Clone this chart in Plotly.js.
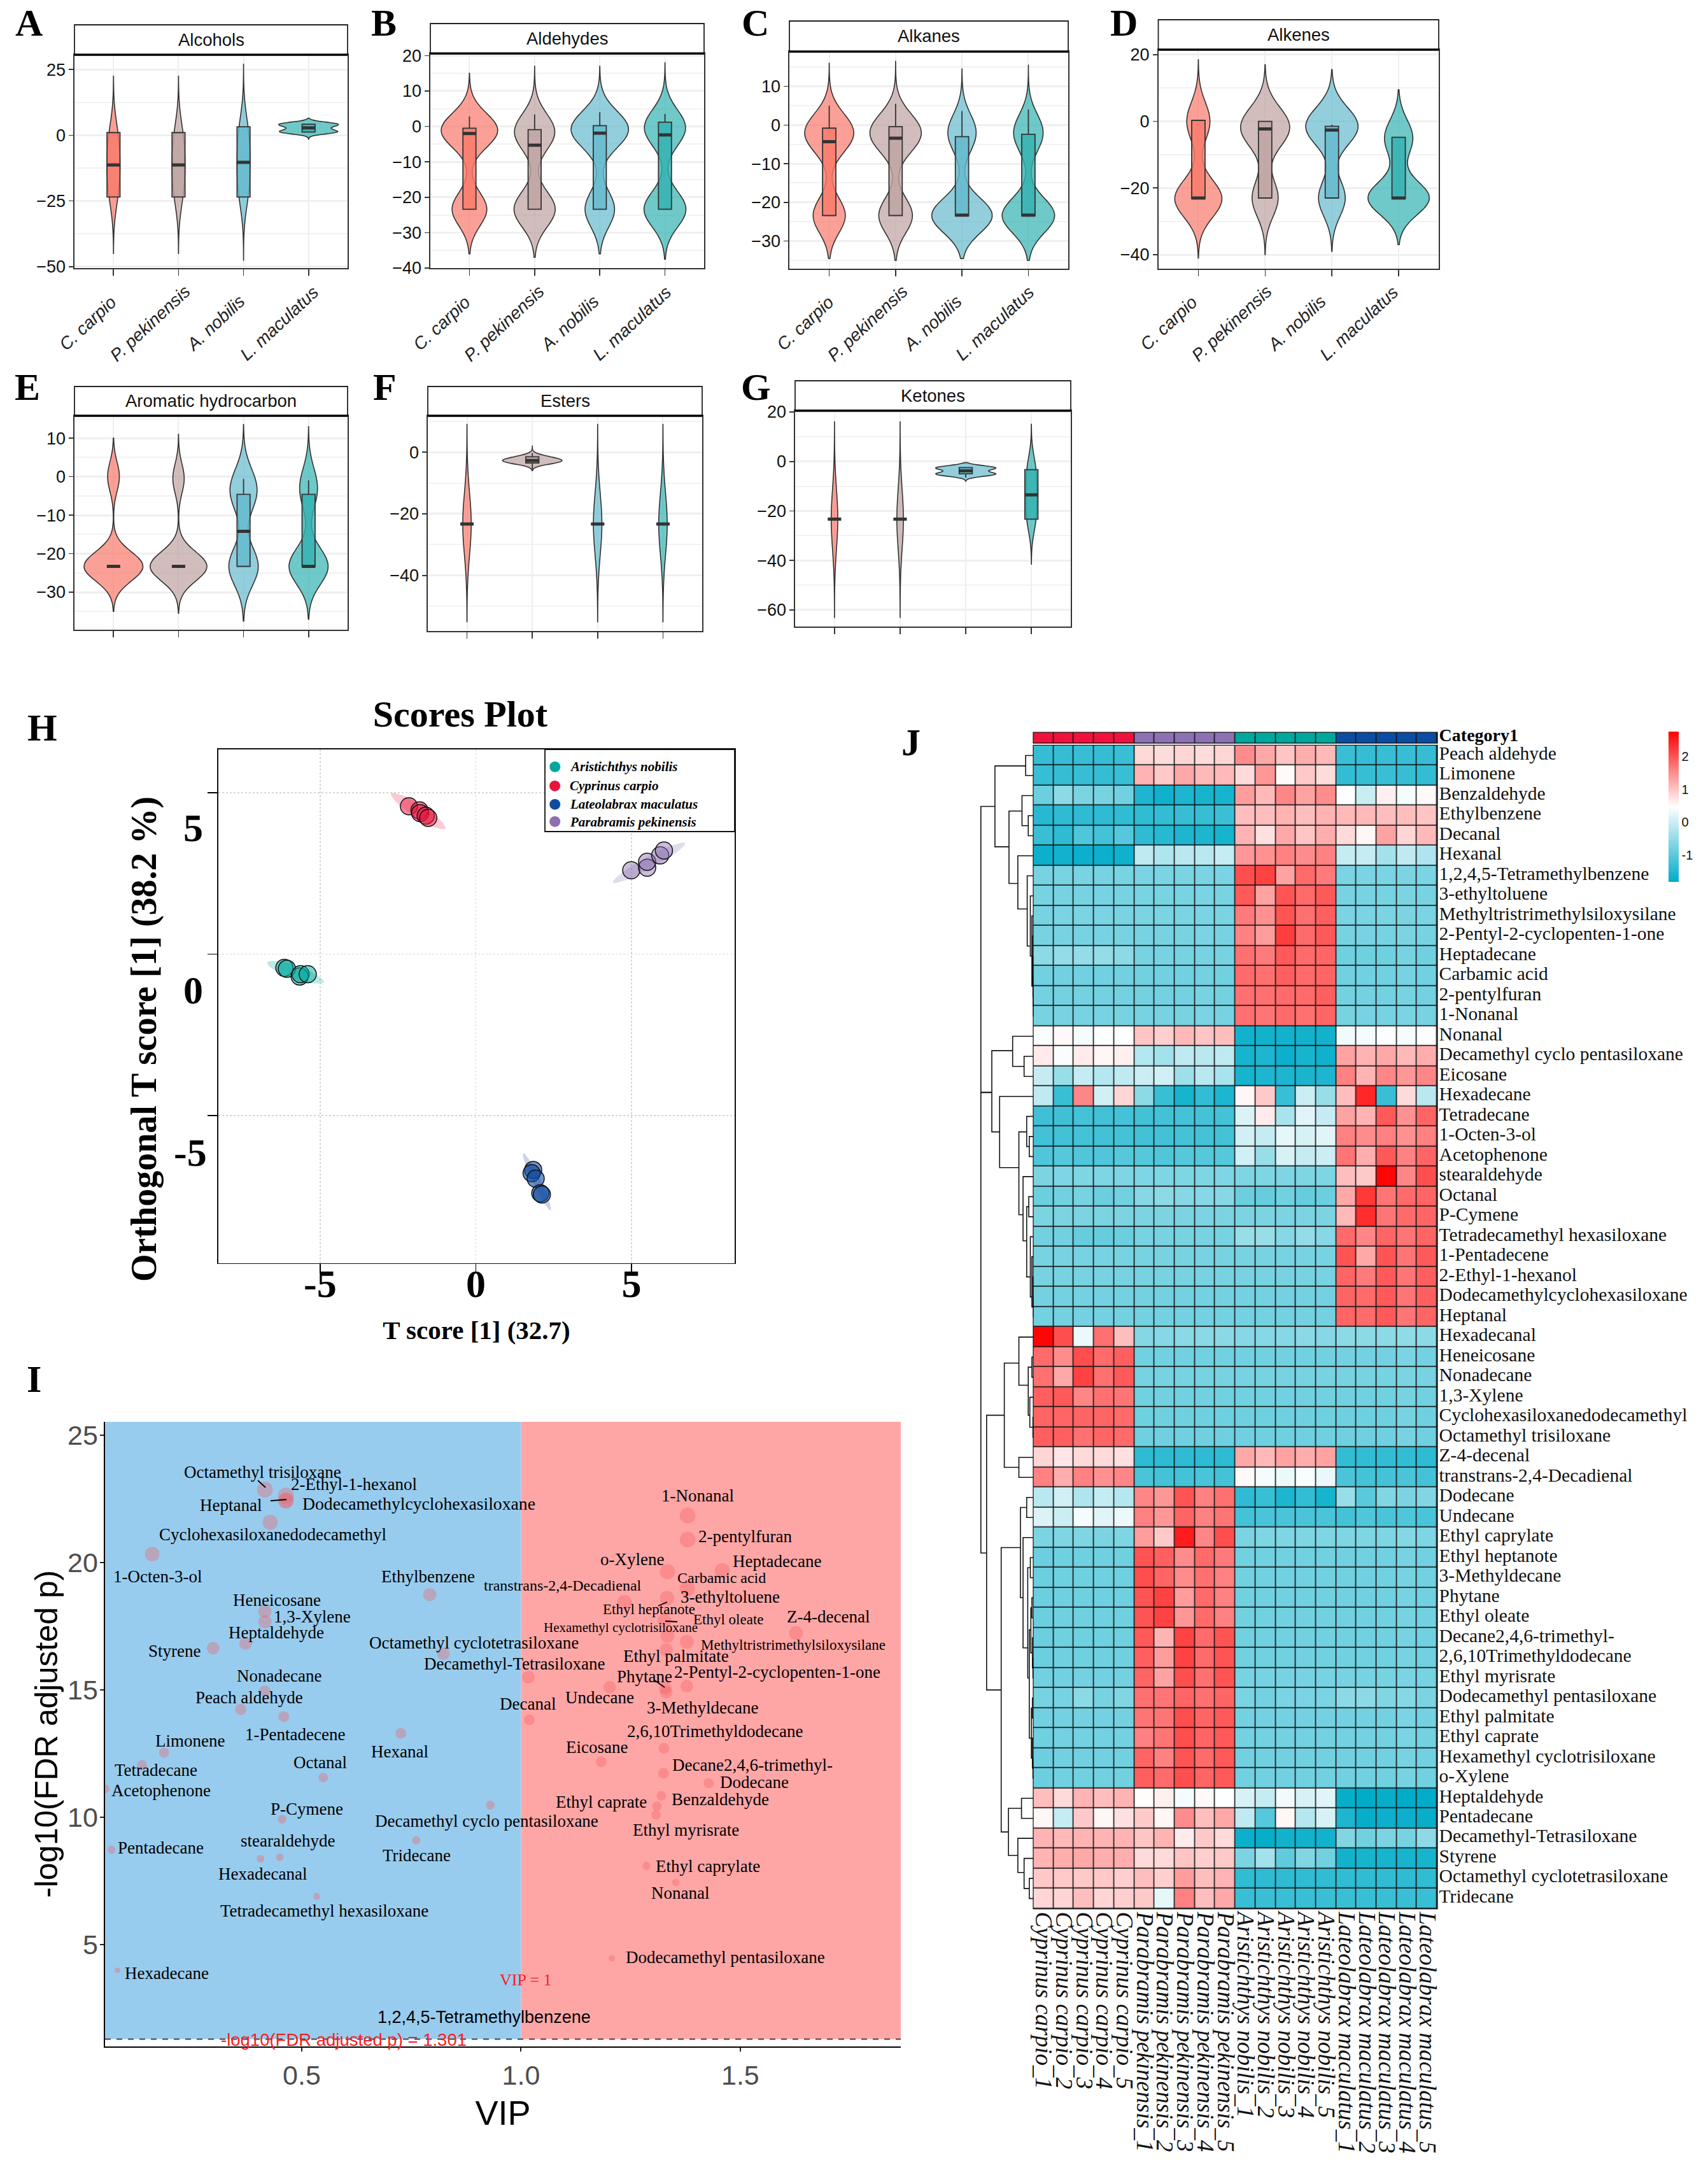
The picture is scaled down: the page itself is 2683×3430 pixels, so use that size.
<!DOCTYPE html>
<html><head><meta charset="utf-8">
<script src="https://cdn.plot.ly/plotly-3.0.1.min.js"></script>
<style>html,body{margin:0;padding:0;background:#fff}</style></head>
<body><div id="chart" style="width:2683px;height:3430px"></div>
<script>
// ---------- DATA: violin panels ----------
const species = ['C. carpio','P. pekinensis','A. nobilis','L. maculatus'];
const alcoholsSamples = [[-23.5,-17,-11.3,-5,1],[-23.5,-17,-11.3,-5,1],[-23.5,-17,-10.3,-3.5,3.2],[1.2,1.3,2.8,4.2,4.3]];
const alcoholsBox = [[-23.5,-23.5,-11.3,1,1],[-23.5,-23.5,-11.3,1,1],[-23.5,-23.5,-10.3,3.2,3.2],[1.2,1.2,2.8,4.2,4.2]];
const aldehydesSamples = [[0.5,-0.5,-1,-2,-2.5,-23.4,-23.4,-23.4],[-0.2,-1,-2,-3,-23.4,-23.4,-23.4,-23.4],[1,0,-0.5,-1,-2,-2.5,-23.4,-23.4,-23.4],[1,0,-1,-1.5,-23.4,-23.4,-23.4,-23.4]];
const aldehydesBox = [[-23.4,-23.4,-2,-0.5,2.8],[-23.4,-23.4,-5.3,-0.9,3.4],[-23.4,-23.4,-1.9,0.2,4],[-23.4,-23.4,-2.4,1.2,3.5]];
const alkanesSamples = [[1,-1,-2,-3.5,-4.5,-23.4,-23.4,-23.4],[1,-1,-2,-3.5,-4.5,-23.4,-23.4,-23.4],[0,-2,-4,-23.4,-23.4,-23.4,-23.4,-23.4,-23.4],[0,-2,-4,-23.4,-23.4,-23.4,-23.4,-23.4]];
const alkanesBox = [[-23.4,-23.4,-4.3,-0.8,5],[-23.4,-23.4,-3.4,-0.4,5.5],[-23.5,-23.5,-23.3,-3,3.6],[-23.5,-23.5,-23.3,-2.4,4]];
const alkenesSamples = [[1,-1,-23.2,-23.2,-23.2,-23.2],[1,-1,-3,-4,-23,-23],[0,-1,-2,-3,-23,-23],[-3,-7,-23,-23,-23,-23]];
const alkenesBox = [[-23.2,-23.2,-23,0.3,0.3],[-23,-23,-2.3,0,0],[-23,-23,-2.6,-1.5,-1],[-23.2,-23.2,-23,-4.8,-4.8]];
const aromaticSamples = [[0,-23.3,-23.3,-23.3,-23.3,-23.3],[-0.5,-23.3,-23.3,-23.3,-23.3,-23.3],[-1,-3.5,-6,-23.3,-23.3,-23.3],[-1,-5,-23.3,-23.3,-23.3,-23.3]];
const aromaticBox = [[-23.3,-23.3,-23.3,-23.3,-23.3],[-23.3,-23.3,-23.3,-23.3,-23.3],[-23.3,-23.3,-14.2,-4.6,-0.6],[-23.3,-23.3,-23.3,-4.6,-1]];
const estersSamples = [[-23.3,-23.3,-23.3],[-1.5,-2.7,-3.5,-2.7],[-23.3,-23.3,-23.3],[-23.3,-23.3,-23.3]];
const estersBox = [[-23.3,-23.3,-23.3,-23.3,-23.3],[-5.5,-3.5,-2.7,-1.5,-0.3],[-23.3,-23.3,-23.3,-23.3,-23.3],[-23.3,-23.3,-23.3,-23.3,-23.3]];
const ketonesSamples = [[-23.3,-23.3,-23.3],[-23.3,-23.3,-23.3],[-2.5,-2.7,-5,-5.2],[-3.3,-13.5,-23.3]];
const ketonesBox = [[-23.3,-23.3,-23.3,-23.3,-23.3],[-23.3,-23.3,-23.3,-23.3,-23.3],[-6.5,-5,-3.8,-2.5,-2.5],[-23.3,-23.3,-13.5,-3.3,-3.3]];

// ---------- DATA: scores plot ----------
const scoreGroups = ['Aristichthys nobilis','Cyprinus carpio','Lateolabrax maculatus','Parabramis pekinensis'];
const aristichthysT = [-6.15,-6.07,-5.66,-5.63,-5.40];
const aristichthysO = [-0.42,-0.45,-0.69,-0.62,-0.62];
const cyprinusT = [-2.15,-1.81,-1.79,-1.61,-1.53];
const cyprinusO = [4.58,4.45,4.37,4.29,4.22];
const lateolabraxT = [1.84,1.79,1.92,2.07,2.12];
const lateolabraxO = [-6.68,-6.78,-6.95,-7.40,-7.44];
const parabramisT = [4.99,5.50,5.50,5.92,6.04];
const parabramisO = [2.60,2.68,2.86,3.06,3.21];
const aristichthysRegionT = [-4.89,-5.114,-5.735,-6.394,-6.70,-6.486,-5.865,-5.206,-4.89];
const aristichthysRegionO = [-0.86,-0.64,-0.373,-0.216,-0.26,-0.48,-0.747,-0.904,-0.86];
const cyprinusRegionT = [-0.98,-1.157,-1.74,-2.387,-2.72,-2.543,-1.96,-1.313,-0.98];
const cyprinusRegionO = [3.89,4.165,4.596,4.929,4.97,4.695,4.264,3.931,3.89];
const lateolabraxRegionT = [2.40,2.349,2.07,1.727,1.52,1.571,1.85,2.193,2.40];
const lateolabraxRegionO = [-7.93,-7.635,-6.994,-6.383,-6.16,-6.455,-7.096,-7.707,-7.93];
const parabramisRegionT = [6.72,6.318,5.472,4.678,4.40,4.802,5.648,6.442,6.72];
const parabramisRegionO = [3.44,3.371,2.986,2.509,2.22,2.289,2.674,3.151,3.44];

// ---------- DATA: VIP plot ----------
const vipValues = [.416,.464,.465,.463,.428,.159,.792,.416,.416,.372,.298,.823,.416,.361,.459,.726,.186,.136,.549,.052,.93,.455,.761,.066,.45,.406,.534,.08,
 1.017,1.019,1.38,1.38,1.334,1.459,1.379,1.333,1.236,1.327,1.334,1.627,1.378,1.331,1.202,1.329,1.331,1.378,1.326,1.183,1.325,1.428,1.32,1.31,1.308,1.286,1.353,1.207];
const logPValues = [22.86,22.63,22.45,22.41,21.58,20.33,18.74,18.09,17.68,16.82,16.64,16.42,14.95,14.24,13.95,13.30,12.54,12.05,11.56,11.12,10.48,9.93,9.10,8.73,8.43,8.38,6.90,4.0,
 15.5,13.83,21.84,20.9,19.64,19.68,18.97,18.6,18.44,17.72,17.13,17.23,16.89,16.58,15.11,15.07,14.91,15.15,12.71,12.18,11.73,11.34,10.85,10.44,10.10,8.10,7.45,4.47];
const vipMarkerPx = [25,25,24,24,24,23,21,21,21,20,20,20,18,18,17,17,16,16,15,14,14,14,13,13,12,12,11,9,
 20,17,25,25,24,24,24,23,23,22,22,22,22,21,20,20,20,20,17,17,17,16,15,15,15,13,12,10];
// label text, centre x px, centre y px, font px
const vipLabels = [
 ['Octamethyl trisiloxane',412,2312,27],['2-Ethyl-1-hexanol',556,2331,27],['Heptanal',362,2364,27],['Dodecamethylcyclohexasiloxane',658,2361,27.7],
 ['Cyclohexasiloxanedodecamethyl',428,2410,27],['1-Octen-3-ol',248,2476,27],['Ethylbenzene',672,2476,27],['Heneicosane',435,2513,27],['1,3-Xylene',490,2539,27],
 ['Heptaldehyde',434,2564,27],['Styrene',274,2593,27],['Octamethyl cyclotetrasiloxane',744,2580,27],['Decamethyl-Tetrasiloxane',808,2613,27],['Nonadecane',439,2632,27],
 ['Peach aldehyde',391,2666,27],['1-Pentadecene',463,2724,27],['Limonene',298,2734,27],['Hexanal',628,2751,27],['Octanal',503,2768,27],['Tetradecane',245,2780,27],
 ['Acetophenone',253,2812,27],['P-Cymene',482,2841,27],['Decamethyl cyclo pentasiloxane',765,2860,27],['stearaldehyde',452,2891,27],['Pentadecane',252,2902,27],
 ['Tridecane',654,2914,27],['Hexadecanal',412,2943,27],['Tetradecamethyl hexasiloxane',509,3001,27],['Hexadecane',262,3099,27],
 ['Decanal',829,2676,27],['1-Nonanal',1096,2349,27],['2-pentylfuran',1170,2413,27],['o-Xylene',993,2449,27],['Heptadecane',1220,2452,27],['Carbamic acid',1133,2478,24],
 ['3-ethyltoluene',1147,2508,27],['transtrans-2,4-Decadienal',884,2490,24],['Ethyl heptanote',1019,2527,23],['Ethyl oleate',1144,2543,23],['Z-4-decenal',1301,2539,27],
 ['Hexamethyl cyclotrisiloxane',975,2556,21],['Methyltristrimethylsiloxysilane',1246,2583,23],['Ethyl palmitate',1062,2601,27],['2-Pentyl-2-cyclopenten-1-one',1221,2626,27],
 ['Phytane',1012,2633,27],['Undecane',942,2666,27],['3-Methyldecane',1103,2682,27],['2,6,10Trimethyldodecane',1123,2719,27],['Eicosane',937,2744,27],
 ['Decane2,4,6-trimethyl-',1182,2772,27],['Dodecane',1185,2799,27],['Benzaldehyde',1131,2826,27],['Ethyl caprate',944,2830,27],['Ethyl myrisrate',1077,2874,27],
 ['Ethyl caprylate',1112,2931,27],['Nonanal',1068,2973,27],['Dodecamethyl pentasiloxane',1139,3074,27]];
// leader lines x0,y0,x1,y1 in px
const vipLeaders = [[405,2325,417,2336],[425,2357,450,2355],[1034,2522,1048,2516],[1045,2546,1064,2547],[1027,2638,1044,2650]];

// ---------- DATA: heat map ----------
const heatRowNames = ['Peach aldehyde','Limonene','Benzaldehyde','Ethylbenzene','Decanal','Hexanal','1,2,4,5-Tetramethylbenzene','3-ethyltoluene','Methyltristrimethylsiloxysilane','2-Pentyl-2-cyclopenten-1-one','Heptadecane','Carbamic acid','2-pentylfuran','1-Nonanal','Nonanal','Decamethyl cyclo pentasiloxane','Eicosane','Hexadecane','Tetradecane','1-Octen-3-ol','Acetophenone','stearaldehyde','Octanal','P-Cymene','Tetradecamethyl hexasiloxane','1-Pentadecene','2-Ethyl-1-hexanol','Dodecamethylcyclohexasiloxane','Heptanal','Hexadecanal','Heneicosane','Nonadecane','1,3-Xylene','Cyclohexasiloxanedodecamethyl','Octamethyl trisiloxane','Z-4-decenal','transtrans-2,4-Decadienal','Dodecane','Undecane','Ethyl caprylate','Ethyl heptanote','3-Methyldecane','Phytane','Ethyl oleate','Decane2,4,6-trimethyl-','2,6,10Trimethyldodecane','Ethyl myrisrate','Dodecamethyl pentasiloxane','Ethyl palmitate','Ethyl caprate','Hexamethyl cyclotrisiloxane','o-Xylene','Heptaldehyde','Pentadecane','Decamethyl-Tetrasiloxane','Styrene','Octamethyl cyclotetrasiloxane','Tridecane'];
const heatColNames = ['Cyprinus carpio_1','Cyprinus carpio_2','Cyprinus carpio_3','Cyprinus carpio_4','Cyprinus carpio_5','Parabramis pekinensis_1','Parabramis pekinensis_2','Parabramis pekinensis_3','Parabramis pekinensis_4','Parabramis pekinensis_5','Aristichthys nobilis_1','Aristichthys nobilis_2','Aristichthys nobilis_3','Aristichthys nobilis_4','Aristichthys nobilis_5','Lateolabrax maculatus_1','Lateolabrax maculatus_2','Lateolabrax maculatus_3','Lateolabrax maculatus_4','Lateolabrax maculatus_5'];
const heatCategory = [0,0,0,0,0,1,1,1,1,1,2,2,2,2,2,3,3,3,3,3];
const heatValues = [
[-1.33,-1.33,-1.32,-1.33,-1.30,.82,.78,.85,.78,.85,1.5,1.25,1.0,1.2,1.1,-1.3,-1.33,-1.32,-1.32,-1.33],
[-1.32,-1.33,-1.32,-1.33,-1.30,1.15,.95,1.25,1.1,1.1,.8,1.4,.52,.95,.78,-1.35,-1.32,-1.3,-1.32,-1.35],
[-.85,-.55,-.7,-.75,-.8,-1.55,-1.68,-1.55,-1.6,-1.6,1.35,1.1,1.55,1.3,1.5,.47,-.02,.6,.38,.52],
[-1.45,-1.4,-1.4,-1.4,-1.38,-1.38,-1.35,-1.32,-1.32,-1.28,1.05,1.05,1.15,1.05,1.15,1.1,1.1,1.05,1.05,1.0],
[-1.3,-1.4,-1.1,-1.2,-1.05,-1.4,-1.45,-1.55,-1.55,-1.6,1.15,.75,1.25,1.0,1.2,.8,.55,1.3,.85,1.1],
[-1.7,-1.65,-1.7,-1.7,-1.68,-.1,-.25,-.15,-.15,-.05,1.4,1.45,1.6,1.5,1.6,-.05,-.05,-.35,-.1,-.25],
[-.75,-.74,-.74,-.75,-.74,-.72,-.72,-.72,-.72,-.72,2.05,2.15,1.3,1.8,1.65,-.72,-.72,-.72,-.7,-.72],
[-.75,-.75,-.75,-.75,-.75,-.74,-.74,-.74,-.72,-.74,1.95,1.3,2.0,1.8,1.95,-.75,-.75,-.75,-.7,-.75],
[-.75,-.72,-.72,-.72,-.73,-.72,-.72,-.72,-.72,-.72,1.65,1.45,2.0,1.75,1.9,-.72,-.72,-.72,-.7,-.72],
[-.75,-.75,-.75,-.75,-.75,-.75,-.75,-.75,-.72,-.75,1.6,1.35,2.2,1.8,1.95,-.75,-.75,-.75,-.7,-.75],
[-.55,-.5,-.5,-.5,-.55,-.75,-.75,-.75,-.75,-.75,1.75,1.65,1.95,1.8,1.85,-.82,-.82,-.82,-.75,-.82],
[-.8,-.8,-.8,-.8,-.8,-.8,-.8,-.8,-.78,-.8,1.8,1.75,1.9,1.8,1.85,-.8,-.8,-.8,-.75,-.8],
[-.78,-.78,-.78,-.78,-.78,-.78,-.78,-.78,-.75,-.78,1.75,1.75,1.8,1.8,1.9,-.78,-.78,-.78,-.75,-.78],
[-.75,-.75,-.75,-.75,-.75,-.75,-.75,-.75,-.72,-.75,1.75,1.7,1.8,1.75,1.85,-.75,-.75,-.75,-.72,-.75],
[.42,.52,.38,.48,.46,1.0,.9,1.1,1.0,1.05,-1.65,-1.65,-1.65,-1.65,-1.65,.35,.38,.45,.38,.45],
[.65,.42,.65,.55,.6,-.2,-.35,-.1,-.15,-.1,-1.6,-1.55,-1.7,-1.6,-1.68,1.3,1.15,1.25,1.1,1.2],
[-.05,-.45,-.05,-.2,-.1,0,.05,-.4,-.15,-.3,-1.6,-1.55,-1.55,-1.58,-1.55,1.6,1.15,1.55,1.4,1.55],
[-.1,-1.3,1.55,.05,.85,-.55,-1.3,-1.6,-1.35,-1.55,.55,.95,-1.3,0,-.45,1.05,2.4,-1.3,.8,-.15],
[-1.25,-1.25,-1.2,-1.22,-1.2,-1.22,-1.22,-1.2,-1.2,-1.2,.15,.65,-.3,.2,-.05,1.3,1.15,1.95,1.45,1.85],
[-1.22,-1.22,-1.2,-1.22,-1.2,-1.22,-1.22,-1.2,-1.2,-1.2,.05,-.05,.25,.1,.2,1.6,1.5,1.6,1.45,1.6],
[-1.1,-1.05,-1.1,-1.1,-1.05,-1.05,-1.1,-1.05,-1.05,-1.05,.05,-.45,.1,-.05,0,1.7,1.2,1.95,1.6,1.85],
[-.7,-.68,-.68,-.68,-.68,-.68,-.68,-.68,-.68,-.68,-.68,-.68,-.68,-.68,-.68,1.05,.95,2.7,1.55,2.05],
[-.85,-.8,-.75,-.85,-.8,-.6,-.55,-.6,-.6,-.6,-.85,-.9,-.8,-.9,-.85,1.25,2.25,1.7,1.8,1.85],
[-.7,-.7,-.7,-.7,-.7,-.7,-.7,-.7,-.7,-.7,-.7,-.7,-.7,-.7,-.7,1.1,2.35,1.7,1.8,1.85],
[-.8,-.8,-.9,-.9,-.85,-.75,-.75,-.75,-.75,-.75,-.45,-.45,-.6,-.5,-.6,1.8,1.55,1.85,1.7,1.85],
[-.75,-.75,-.75,-.75,-.75,-.75,-.75,-.75,-.75,-.75,-.75,-.75,-.75,-.75,-.75,2.0,1.25,2.0,1.7,1.95],
[-.75,-.75,-.75,-.75,-.75,-.75,-.75,-.75,-.75,-.75,-.75,-.75,-.75,-.75,-.75,1.85,1.65,1.95,1.7,1.9],
[-.78,-.78,-.78,-.78,-.78,-.78,-.78,-.78,-.78,-.78,-.78,-.78,-.78,-.78,-.78,1.85,1.8,1.95,1.7,1.9],
[-.78,-.78,-.78,-.78,-.78,-.78,-.78,-.78,-.78,-.78,-.78,-.78,-.78,-.78,-.78,1.85,1.8,1.95,1.7,1.85],
[2.7,2.05,.3,1.75,1.05,-.62,-.6,-.58,-.58,-.58,-.6,-.6,-.6,-.58,-.6,-.55,-.55,-.55,-.52,-.55],
[1.8,1.5,2.05,1.8,1.9,-.8,-.8,-.8,-.8,-.8,-.8,-.8,-.8,-.8,-.8,-.78,-.78,-.78,-.72,-.78],
[1.75,1.25,2.15,1.75,1.95,-.75,-.75,-.75,-.75,-.75,-.75,-.75,-.75,-.75,-.75,-.75,-.75,-.75,-.72,-.75],
[1.9,1.95,1.55,1.75,1.7,-.8,-.8,-.8,-.8,-.8,-.8,-.8,-.8,-.8,-.8,-.8,-.8,-.8,-.75,-.8],
[1.85,1.85,1.85,1.85,1.8,-.82,-.82,-.82,-.82,-.82,-.82,-.82,-.82,-.82,-.82,-.82,-.82,-.82,-.75,-.82],
[1.9,1.9,1.75,1.85,1.8,-.82,-.82,-.82,-.82,-.82,-.82,-.82,-.82,-.82,-.82,-.82,-.82,-.82,-.75,-.82],
[.85,.7,.8,.8,.75,-1.4,-1.4,-1.4,-1.4,-1.4,1.25,1.1,1.3,1.2,1.3,-1.35,-1.35,-1.35,-1.35,-1.4],
[1.6,1.2,1.6,1.45,1.55,-1.15,-1.2,-1.2,-1.15,-1.2,.52,.38,.3,.42,.28,-1.15,-1.2,-1.2,-1.15,-1.2],
[-.15,.05,-.25,-.05,-.2,1.55,1.4,2.0,1.6,1.75,-1.4,-1.3,-1.55,-1.35,-1.6,-.45,-1.0,-.65,-.7,-.65],
[.15,0,.38,.2,.3,1.6,1.4,1.85,1.6,1.7,-1.2,-1.15,-1.15,-1.15,-1.15,-1.2,-1.1,-1.15,-1.1,-1.15],
[-.7,-.68,-.68,-.7,-.68,1.35,.95,2.5,1.55,2.05,-.7,-.68,-.68,-.68,-.68,-.68,-.68,-.68,-.62,-.68],
[-.85,-.82,-.82,-.82,-.82,2.0,1.9,1.5,1.8,1.65,-.8,-.8,-.8,-.8,-.8,-.8,-.8,-.8,-.75,-.8],
[-.85,-.82,-.82,-.82,-.82,2.05,1.85,1.5,1.75,1.6,-.8,-.8,-.8,-.8,-.8,-.8,-.8,-.8,-.75,-.8],
[-.85,-.82,-.82,-.82,-.82,2.0,2.15,1.35,1.8,1.6,-.8,-.8,-.8,-.8,-.8,-.8,-.8,-.8,-.75,-.8],
[-.85,-.82,-.82,-.82,-.82,2.0,2.15,1.4,1.8,1.6,-.8,-.8,-.8,-.8,-.8,-.8,-.8,-.8,-.75,-.8],
[-.85,-.82,-.82,-.82,-.82,1.95,1.15,2.15,1.8,2.0,-.8,-.8,-.8,-.8,-.8,-.8,-.8,-.8,-.75,-.8],
[-.85,-.82,-.82,-.82,-.82,1.9,1.35,2.15,1.8,2.0,-.8,-.8,-.8,-.8,-.8,-.8,-.8,-.8,-.75,-.8],
[-.8,-.8,-.78,-.8,-.78,1.85,1.3,2.05,1.75,2.0,-.75,-.75,-.75,-.75,-.75,-.75,-.75,-.75,-.72,-.75],
[-.75,-.75,-.55,-.75,-.65,1.75,1.7,1.85,1.75,1.85,-.72,-.78,-.72,-.72,-.72,-.55,-.55,-.65,-.6,-.7],
[-.8,-.78,-.78,-.78,-.78,1.7,1.7,2.05,1.85,1.95,-.78,-.78,-.78,-.78,-.78,-.78,-.78,-.78,-.72,-.78],
[-.82,-.78,-.78,-.78,-.78,1.6,1.7,2.05,1.85,1.95,-.78,-.78,-.78,-.78,-.78,-.78,-.78,-.78,-.72,-.78],
[-.85,-.8,-.8,-.8,-.8,1.85,1.6,2.0,1.8,1.95,-.8,-.8,-.8,-.8,-.8,-.8,-.8,-.8,-.75,-.8],
[-.85,-.8,-.8,-.8,-.8,1.9,1.8,2.05,1.85,1.95,-.8,-.8,-.8,-.8,-.8,-.8,-.8,-.8,-.75,-.8],
[1.05,.8,1.15,1.05,1.15,.5,.6,.38,.52,.46,.1,-.05,.35,.1,.2,-1.75,-1.8,-1.75,-1.8,-1.8],
[.55,-.05,.95,.55,.75,.95,.55,1.5,1.05,1.25,-.1,-1.05,.55,-.2,.1,-1.55,-1.75,-1.7,-1.7,-1.75],
[1.15,1.1,1.15,1.15,1.15,1.0,1.15,.65,.95,.8,-1.7,-1.75,-1.65,-1.65,-1.65,-.65,-.8,-.7,-.75,-.55],
[1.15,1.2,1.25,1.2,1.2,.8,.8,1.0,.9,.95,-.7,-.35,-.95,-.65,-.8,-1.65,-1.6,-1.6,-1.6,-1.6],
[.95,.95,.95,.95,.9,1.05,.9,1.35,1.05,1.15,-1.38,-1.4,-1.4,-1.38,-1.38,-1.38,-1.38,-1.38,-1.4,-1.38],
[.85,.85,1.05,.85,.9,.95,.25,1.6,1.05,1.25,-1.3,-1.3,-1.3,-1.3,-1.3,-1.3,-1.3,-1.3,-1.3,-1.3]];
// dendrogram merges: [height, upper row, lower row, upper child height, lower child height]
const dendroMerges = [[172,3.54,17.8,199,193],[172,17.8,40.77,193,183],[199,1.52,5.55,258,226],[258,1,2,273,273],[226,3.77,7.38,251,243],[251,3,4.5,273,263],[263,4,5,273,273],[243,6,8.65,273,261],[261,7,10.5,273,267],[267,8,11,273,270],[270,9,12.5,273,271],[271,10,12.5,273,272],[272,11,13,273,272.5],[272.5,12,13.5,273,272.8],[272.8,13,14,273,273],
[193,15.72,19.77,233,208],[233,15,16.5,273,255],[255,16,17,273,273],[208,18,21.55,273,245],[245,19.77,23.9,260,253],[260,19,20.5,273,265],[265,20,21,273,273],[253,22,25.2,273,260],[260,23.5,27,264,267],[264,23,24,273,273],[267,25,28,273,270],[270,26,28.5,273,272],[272,27,28.5,273,272.8],[272.8,28,29,273,273],
[183,33.9,47.6,217,211],[217,31.3,36.5,245,245],[245,30,32.4,273,263],[263,31.5,33.9,270,266],[270,31,32,273,273],[266,33,34.5,273,272],[272,34,35,273,273],[245,36,37,273,273],
[211,40.5,54.68,248,225],[248,38.5,43,260,253],[260,38,39,273,273],[253,40,45.5,273,262],[262,41.5,47,267,265],[267,41,42,273,273],[265,44.6,50,268,269],[268,43.5,45.75,270,271],[270,43,44,273,273],[271,45,46.5,273,272],[272,46,47,273,273],[269,48.5,51,271,271],[271,48,49,273,273],[271,50,51.5,273,272],[272,51,52,273,273],
[225,53.5,55.85,250,243],[250,53,54,273,273],[243,55,56.7,273,255],[255,56,57.5,273,265],[265,57,58,273,273]];

// ---------- LAYOUT HELPERS ----------
const W = 2683, H = 3430;
const fx = x => x / W, fy = y => 1 - y / H;
const SANS = '"Liberation Sans",Arial,sans-serif', SERIF = '"Liberation Serif","Times New Roman",serif';
const data = [], shapes = [], annotations = [], layout = {};
function note(text, x, y, size, opts) {
  annotations.push(Object.assign({text, x: fx(x), y: fy(y), xref:'paper', yref:'paper', showarrow:false, xanchor:'center', yanchor:'middle',
    font:{family:SERIF, size, color:'#000'}}, opts || {}));
}
const violinFill = ['rgba(250,120,105,0.7)','rgba(190,162,160,0.7)','rgba(100,185,205,0.7)','rgba(49,178,176,0.7)'];
const boxFill = ['rgba(250,120,105,0.8)','rgba(190,162,160,0.8)','rgba(100,185,205,0.8)','rgba(49,178,176,0.8)'];

function violinPanel(n, cfg) {
  const xa = n === 1 ? 'x' : 'x' + n, ya = n === 1 ? 'y' : 'y' + n;
  cfg.samples.forEach((s, i) => {
    data.push({type:'violin', x0:i+1, y:s, xaxis:xa, yaxis:ya, bandwidth:cfg.bw[i], spanmode:'manual', span:cfg.span[i], width:cfg.width[i],
      scalegroup:cfg.title + i, scalemode:'width', fillcolor:violinFill[i], line:{color:'#333333', width:1.6}, points:false,
      box:{visible:false}, meanline:{visible:false}, hoverinfo:'skip', showlegend:false});
  });
  cfg.box.forEach((b, i) => {
    data.push({type:'box', x:[i+1], lowerfence:[b[0]], q1:[b[1]], median:[b[2]], q3:[b[3]], upperfence:[b[4]], xaxis:xa, yaxis:ya, width:0.2, whiskerwidth:0,
      fillcolor:boxFill[i], line:{color:'#333333', width:1.8}, boxpoints:false, hoverinfo:'skip', showlegend:false});
  });
  data.push({type:'scatter', mode:'markers', x:[1,2,3,4], y:cfg.box.map(b => b[2]), xaxis:xa, yaxis:ya, showlegend:false, hoverinfo:'skip',
    marker:{symbol:'line-ew', size:15, line:{color:'#333333', width:5}}});
  const xName = n === 1 ? 'xaxis' : 'xaxis' + n, yName = n === 1 ? 'yaxis' : 'yaxis' + n;
  const r = cfg.rect;
  layout[xName] = {domain:[fx(r.l), fx(r.r)], anchor:ya, range:[0.4,4.6], tickmode:'array', tickvals:[1,2,3,4], ticktext:species,
    showticklabels:false, ticks:'outside', ticklen:10, tickwidth:1.6, tickcolor:'#333',
    showgrid:true, gridcolor:'#eeeeee', gridwidth:2, zeroline:false, showline:true, linecolor:'#333', linewidth:1.6, mirror:true};
  layout[yName] = {domain:[fy(r.b), fy(r.sb)], anchor:xa, range:cfg.range, dtick:cfg.dtick, tick0:0, tickfont:{family:SANS, size:27, color:'#111'}, ticks:'outside', ticklen:7, tickwidth:1.6, tickcolor:'#333',
    showgrid:true, gridcolor:'#efefef', gridwidth:3, zeroline:false, showline:true, linecolor:'#333', linewidth:1.6, mirror:true,
    minor:{dtick:cfg.dtick/2, tick0:0, showgrid:true, gridcolor:'#f2f2f2', gridwidth:2, ticks:''}};
  shapes.push({type:'rect', xref:'paper', yref:'paper', x0:fx(r.l), x1:fx(r.r), y0:fy(r.sb), y1:fy(r.st), line:{color:'#222', width:1.8}, fillcolor:'#ffffff', layer:'above'});
  shapes.push({type:'line', xref:'paper', yref:'paper', x0:fx(r.l), x1:fx(r.r), y0:fy(r.sb), y1:fy(r.sb), line:{color:'#000', width:3.5}, layer:'above'});
  note(cfg.title, (r.l + r.r) / 2, (r.st + r.sb) / 2, 27.5, {font:{family:SANS, size:27.5, color:'#111'}});
  if (cfg.labelX) species.forEach((s, i) => note(s, cfg.labelX[i], 508, 27.5, {textangle:-43, font:{family:SANS, size:27.5, style:'italic', color:'#222'}}));
}

violinPanel(1, {title:'Alcohols', samples:alcoholsSamples, box:alcoholsBox, rect:{l:117,r:546,st:39,sb:86,b:421}, range:[-50.5,30.6], dtick:25, labelX:[138,236,338.5,439],
  bw:[7.3,7.3,7.5,0.8], span:[[-45,22.5],[-45,22.5],[-47.5,27],[-1.5,6.5]], width:[0.2,0.2,0.2,0.92]});
violinPanel(2, {title:'Aldehydes', samples:aldehydesSamples, box:aldehydesBox, rect:{l:676,r:1106,st:37,sb:84,b:421}, range:[-40,20.6], dtick:10, labelX:[694,792,895,993],
  bw:[4.7,5,5,5], span:[[-36,15],[-37,17],[-36,17],[-37.5,18]], width:[0.86,0.63,0.88,0.64]});
violinPanel(3, {title:'Alkanes', samples:alkanesSamples, box:alkanesBox, rect:{l:1240,r:1678,st:33,sb:81,b:422}, range:[-37.15,19], dtick:10, labelX:[1265,1363,1465,1563],
  bw:[4.5,4.5,4.5,4.5], span:[[-34.5,16],[-35,16.5],[-34.5,14.5],[-35,15.5]], width:[0.74,0.77,0.9,0.79]});
violinPanel(4, {title:'Alkenes', samples:alkenesSamples, box:alkenesBox, rect:{l:1819.5,r:2260,st:31,sb:78,b:422}, range:[-44.2,21.5], dtick:20, labelX:[1836,1935,2037,2135],
  bw:[5.6,5.6,5.5,5], span:[[-41,18.5],[-40,17],[-39,15.5],[-37,9.5]], width:[0.7,0.735,0.78,0.91]});
violinPanel(5, {title:'Aromatic hydrocarbon', samples:aromaticSamples, box:aromaticBox, rect:{l:117,r:546,st:607,sb:653,b:989}, range:[-39.75,15.8], dtick:10,
  bw:[3.8,3.8,5,4.7], span:[[-35,10],[-35.5,11],[-37.5,13.5],[-37,13]], width:[0.9,0.87,0.45,0.6]});
violinPanel(6, {title:'Esters', samples:estersSamples, box:estersBox, rect:{l:672,r:1103,st:607,sb:653,b:991}, range:[-58,11.8], dtick:20,
  bw:[10,0.9,10,10], span:[[-55,9],[-6,2],[-55,9],[-55,9]], width:[0.13,0.91,0.13,0.13]});
violinPanel(7, {title:'Ketones', samples:ketonesSamples, box:ketonesBox, rect:{l:1249,r:1682,st:598,sb:645,b:984}, range:[-66.7,20.5], dtick:20,
  bw:[12,12,0.9,6], span:[[-63,16],[-63,16],[-8,-0.5],[-41.5,15]], width:[0.1,0.1,0.92,0.17]});

// ---------- H: scores plot ----------
const groupColors = ['#00A79D','#E8133D','#0F4BA0','#8B6FB0'];
const regionColors = ['rgba(0,167,157,0.25)','rgba(232,19,61,0.22)','rgba(60,70,170,0.25)','rgba(139,111,176,0.25)'];
const pointColors = ['rgba(0,167,157,0.5)','rgba(232,19,61,0.5)','rgba(15,75,160,0.6)','rgba(139,111,176,0.45)'];
[[aristichthysRegionT,aristichthysRegionO],[cyprinusRegionT,cyprinusRegionO],[lateolabraxRegionT,lateolabraxRegionO],[parabramisRegionT,parabramisRegionO]].forEach((p,i) => {
  data.push({type:'scatter', mode:'lines', x:p[0], y:p[1], xaxis:'x8', yaxis:'y8', fill:'toself', fillcolor:regionColors[i], line:{width:0, shape:'spline', smoothing:1.2}, showlegend:false, hoverinfo:'skip'});
});
[[aristichthysT,aristichthysO],[cyprinusT,cyprinusO],[lateolabraxT,lateolabraxO],[parabramisT,parabramisO]].forEach((p,i) => {
  data.push({type:'scatter', mode:'markers', name:scoreGroups[i], x:p[0], y:p[1], xaxis:'x8', yaxis:'y8', showlegend:false,
    marker:{size:27, color:pointColors[i], line:{color:'#111', width:1.5}}});
});
layout.xaxis8 = {domain:[fx(343), fx(1154)], anchor:'y8', range:[-8.27,8.31], tickvals:[-5,0,5], ticktext:['-5','0','5'], tickfont:{family:SERIF, size:62, weight:'bold', color:'#000'},
  ticks:'outside', ticklen:15, tickwidth:1.5, tickcolor:'#000', showline:true, mirror:true, linecolor:'#111', linewidth:1.8, zeroline:false, showgrid:true, gridcolor:'#d5d5d5', griddash:'dot', gridwidth:1.5, ticklabelstandoff:-38,
  title:{text:'T score [1] (32.7)', font:{family:SERIF, size:41, weight:'bold', color:'#000'}, standoff:25}};
layout.yaxis8 = {domain:[fy(1983.5), fy(1177)], anchor:'x8', range:[-9.56,6.34], tickvals:[-5,0,5], showticklabels:false,
  ticks:'outside', ticklen:15, tickwidth:1.5, tickcolor:'#000', showline:true, mirror:true, linecolor:'#111', linewidth:1.8, zeroline:false, showgrid:true, gridcolor:'#d5d5d5', griddash:'dot', gridwidth:1.5};
const boldSerif = s => ({font:{family:SERIF, size:s, weight:'bold', color:'#000'}});
note('5',303,1300,62,boldSerif(62)); note('0',303,1555,62,boldSerif(62)); note('-5',299,1810,62,boldSerif(62));
note('Orthogonal T score [1] (38.2 %)',226,1632,56,Object.assign({textangle:-90},boldSerif(56)));
layout.title = {text:'Scores Plot', x:fx(723), xref:'paper', xanchor:'center', y:fy(1121), yref:'paper', yanchor:'middle', font:{family:SERIF, size:58, weight:'bold', color:'#000'}};
shapes.push({type:'rect', xref:'paper', yref:'paper', x0:fx(856), x1:fx(1154), y0:fy(1306), y1:fy(1177), line:{color:'#111', width:1.8}, fillcolor:'#fff', layer:'above'});
[1202,1232,1261,1289].forEach((y,i) => {
  note('●',871,y,22,{font:{family:'"DejaVu Sans"', size:22, color:groupColors[i]}});
  note(scoreGroups[i],893,y+2,21,{xanchor:'left', font:{family:SERIF, size:21, style:'italic', weight:'bold', color:'#000'}});
});

// ---------- I: VIP plot ----------
data.push({type:'scatter', mode:'markers', x:vipValues, y:logPValues, xaxis:'x9', yaxis:'y9', showlegend:false,
  marker:{size:vipMarkerPx, color:'rgba(245,90,95,0.48)', line:{width:0}}});
layout.xaxis9 = {domain:[fx(165), fx(1415)], anchor:'y9', range:[0.0515,1.866], tickvals:[0.5,1,1.5], ticktext:['0.5','1.0','1.5'], tickfont:{family:SANS, size:43, color:'#4d4d4d'},
  ticks:'outside', ticklen:6, tickwidth:2, tickcolor:'#222', showline:true, linecolor:'#000', linewidth:2.5, zeroline:false, showgrid:false,
  title:{text:'VIP', font:{family:SANS, size:54, color:'#000'}, standoff:18}};
layout.yaxis9 = {domain:[fy(3213.7), fy(2233)], anchor:'x9', range:[1.02,25.52], tickvals:[5,10,15,20,25], tickfont:{family:SANS, size:43, color:'#4d4d4d'},
  ticks:'outside', ticklen:6, tickwidth:2, tickcolor:'#222', showline:true, linecolor:'#000', linewidth:2.5, zeroline:false, showgrid:false, ticklabelstandoff:-6,
  title:{text:'-log10(FDR adjusted p)', font:{family:SANS, size:49.5, color:'#000'}, standoff:0}};
shapes.push({type:'rect', xref:'x9', yref:'y9', x0:0.0515, x1:1, y0:1.301, y1:25.52, fillcolor:'#98CCEE', line:{width:0}, layer:'below'});
shapes.push({type:'rect', xref:'x9', yref:'y9', x0:1, x1:1.866, y0:1.301, y1:25.52, fillcolor:'#FEA6A6', line:{width:0}, layer:'below'});
shapes.push({type:'line', xref:'x9', yref:'y9', x0:0.0515, x1:1.866, y0:1.301, y1:1.301, line:{color:'#444', width:2, dash:'dash'}, layer:'below'});
vipLabels.forEach(l => note(l[0], l[1], l[2], l[3]));
vipLeaders.forEach(s => shapes.push({type:'line', xref:'paper', yref:'paper', x0:fx(s[0]), y0:fy(s[1]), x1:fx(s[2]), y1:fy(s[3]), line:{color:'#000', width:1.8}, layer:'above'}));
note('1,2,4,5-Tetramethylbenzene',760,3168,27,{font:{family:SANS, size:27, color:'#000'}});
note('-log10(FDR adjusted p) = 1.301',540,3203,27,{font:{family:SANS, size:27.5, color:'#ff1a1a'}});
note('VIP = 1',826,3109,26,{font:{family:SERIF, size:26, color:'#ff1a1a'}});

// ---------- J: heat map ----------
const hx0 = 1623.4, hx1 = 2257.6, hy0 = 1170.8, hy1 = 2997.4;
data.push({type:'heatmap', z:heatValues, x:heatColNames, y:heatRowNames, xaxis:'x10', yaxis:'y10', xgap:1.6, ygap:1.6, zmin:-1.81, zmax:2.75, hoverinfo:'skip',
  colorscale:[[0,'#00ACC9'],[0.5,'#ffffff'],[1,'#ff0000']],
  colorbar:{x:fx(2621), xanchor:'left', xref:'paper', y:fy(1149), yanchor:'top', yref:'paper', lenmode:'pixels', len:236, thicknessmode:'pixels', thickness:15.5, xpad:0, ypad:0, outlinewidth:0,
    tickmode:'array', tickvals:[-1,0,1,2], ticktext:['-1','0','1','2'], ticks:'', tickfont:{family:SANS, size:20, color:'#111'}}});
layout.xaxis10 = {domain:[fx(hx0), fx(hx1)], anchor:'y10', type:'category', tickmode:'array', tickvals:heatColNames, ticktext:heatColNames, tickangle:90, tickfont:{family:SERIF, size:37, style:'italic', color:'#111'}, ticks:'', showgrid:false, zeroline:false, showline:false, ticklabelstandoff:4};
layout.yaxis10 = {domain:[fy(hy1), fy(hy0)], anchor:'x10', side:'right', type:'category', autorange:'reversed', tickmode:'array', tickvals:heatRowNames, ticktext:heatRowNames, tickfont:{family:SERIF, size:29.5, color:'#111'}, ticks:'', showgrid:false, zeroline:false, showline:false, ticklabelstandoff:2, ticklabelshift:4};
const categoryStrip = ['#F0123C','#8E70B4','#00A79D','#0A4DA2'];
data.push({type:'heatmap', z:[heatCategory], x:heatColNames, y:['Category1'], xaxis:'x11', yaxis:'y11', xgap:1.6, ygap:0, zmin:0, zmax:4, showscale:false, hoverinfo:'skip',
  colorscale:[[0,categoryStrip[0]],[0.25,categoryStrip[0]],[0.25,categoryStrip[1]],[0.5,categoryStrip[1]],[0.5,categoryStrip[2]],[0.75,categoryStrip[2]],[0.75,categoryStrip[3]],[1,categoryStrip[3]]]});
layout.xaxis11 = {domain:[fx(hx0), fx(hx1)], anchor:'y11', type:'category', showticklabels:false, ticks:'', showgrid:false, zeroline:false};
layout.yaxis11 = {domain:[fy(1166.7), fy(1150.4)], anchor:'x11', side:'right', type:'category', tickfont:{family:SERIF, size:28, weight:'bold', color:'#000'}, ticks:'', showgrid:false, zeroline:false, ticklabelstandoff:2, ticklabelshift:-4};
shapes.push({type:'rect', xref:'paper', yref:'paper', x0:fx(hx0-1), x1:fx(hx1+1), y0:fy(hy1+1), y1:fy(hy0-1), fillcolor:'#111', line:{width:0}, layer:'below'});
shapes.push({type:'rect', xref:'paper', yref:'paper', x0:fx(hx0-1), x1:fx(hx1+1), y0:fy(1167.7), y1:fy(1149.4), fillcolor:'#111', line:{width:0}, layer:'below'});
const dx = [], dy = [];
dendroMerges.forEach(m => { dx.push(m[3], m[0], m[0], m[4], null); dy.push(m[1], m[1], m[2], m[2], null); });
data.push({type:'scatter', mode:'lines', x:dx, y:dy, xaxis:'x12', yaxis:'y12', showlegend:false, hoverinfo:'skip', line:{color:'#111', width:1.6}});
layout.xaxis12 = {domain:[fx(1540), fx(hx0)], anchor:'y12', range:[171,273], visible:false};
layout.yaxis12 = {domain:[fy(hy1), fy(hy0)], anchor:'x12', range:[58.5,0.5], visible:false};

// ---------- panel letters ----------
[['A',45,36],['B',603,36],['C',1186,36],['D',1765,36],['E',43,608],['F',604,608],['G',1187,608],['H',66,1143],['I',53,2166],['J',1431,1166]]
  .forEach(l => note(l[0], l[1], l[2], 60, boldSerif(60)));

Object.assign(layout, {width:W, height:H, autosize:false, margin:{l:0,r:0,t:0,b:0,pad:0}, paper_bgcolor:'#fff', plot_bgcolor:'rgba(0,0,0,0)', showlegend:false,
  violinmode:'overlay', boxmode:'overlay', shapes, annotations, font:{family:SANS}});
Plotly.newPlot('chart', data, layout, {staticPlot:true, displayModeBar:false});
</script></body></html>
